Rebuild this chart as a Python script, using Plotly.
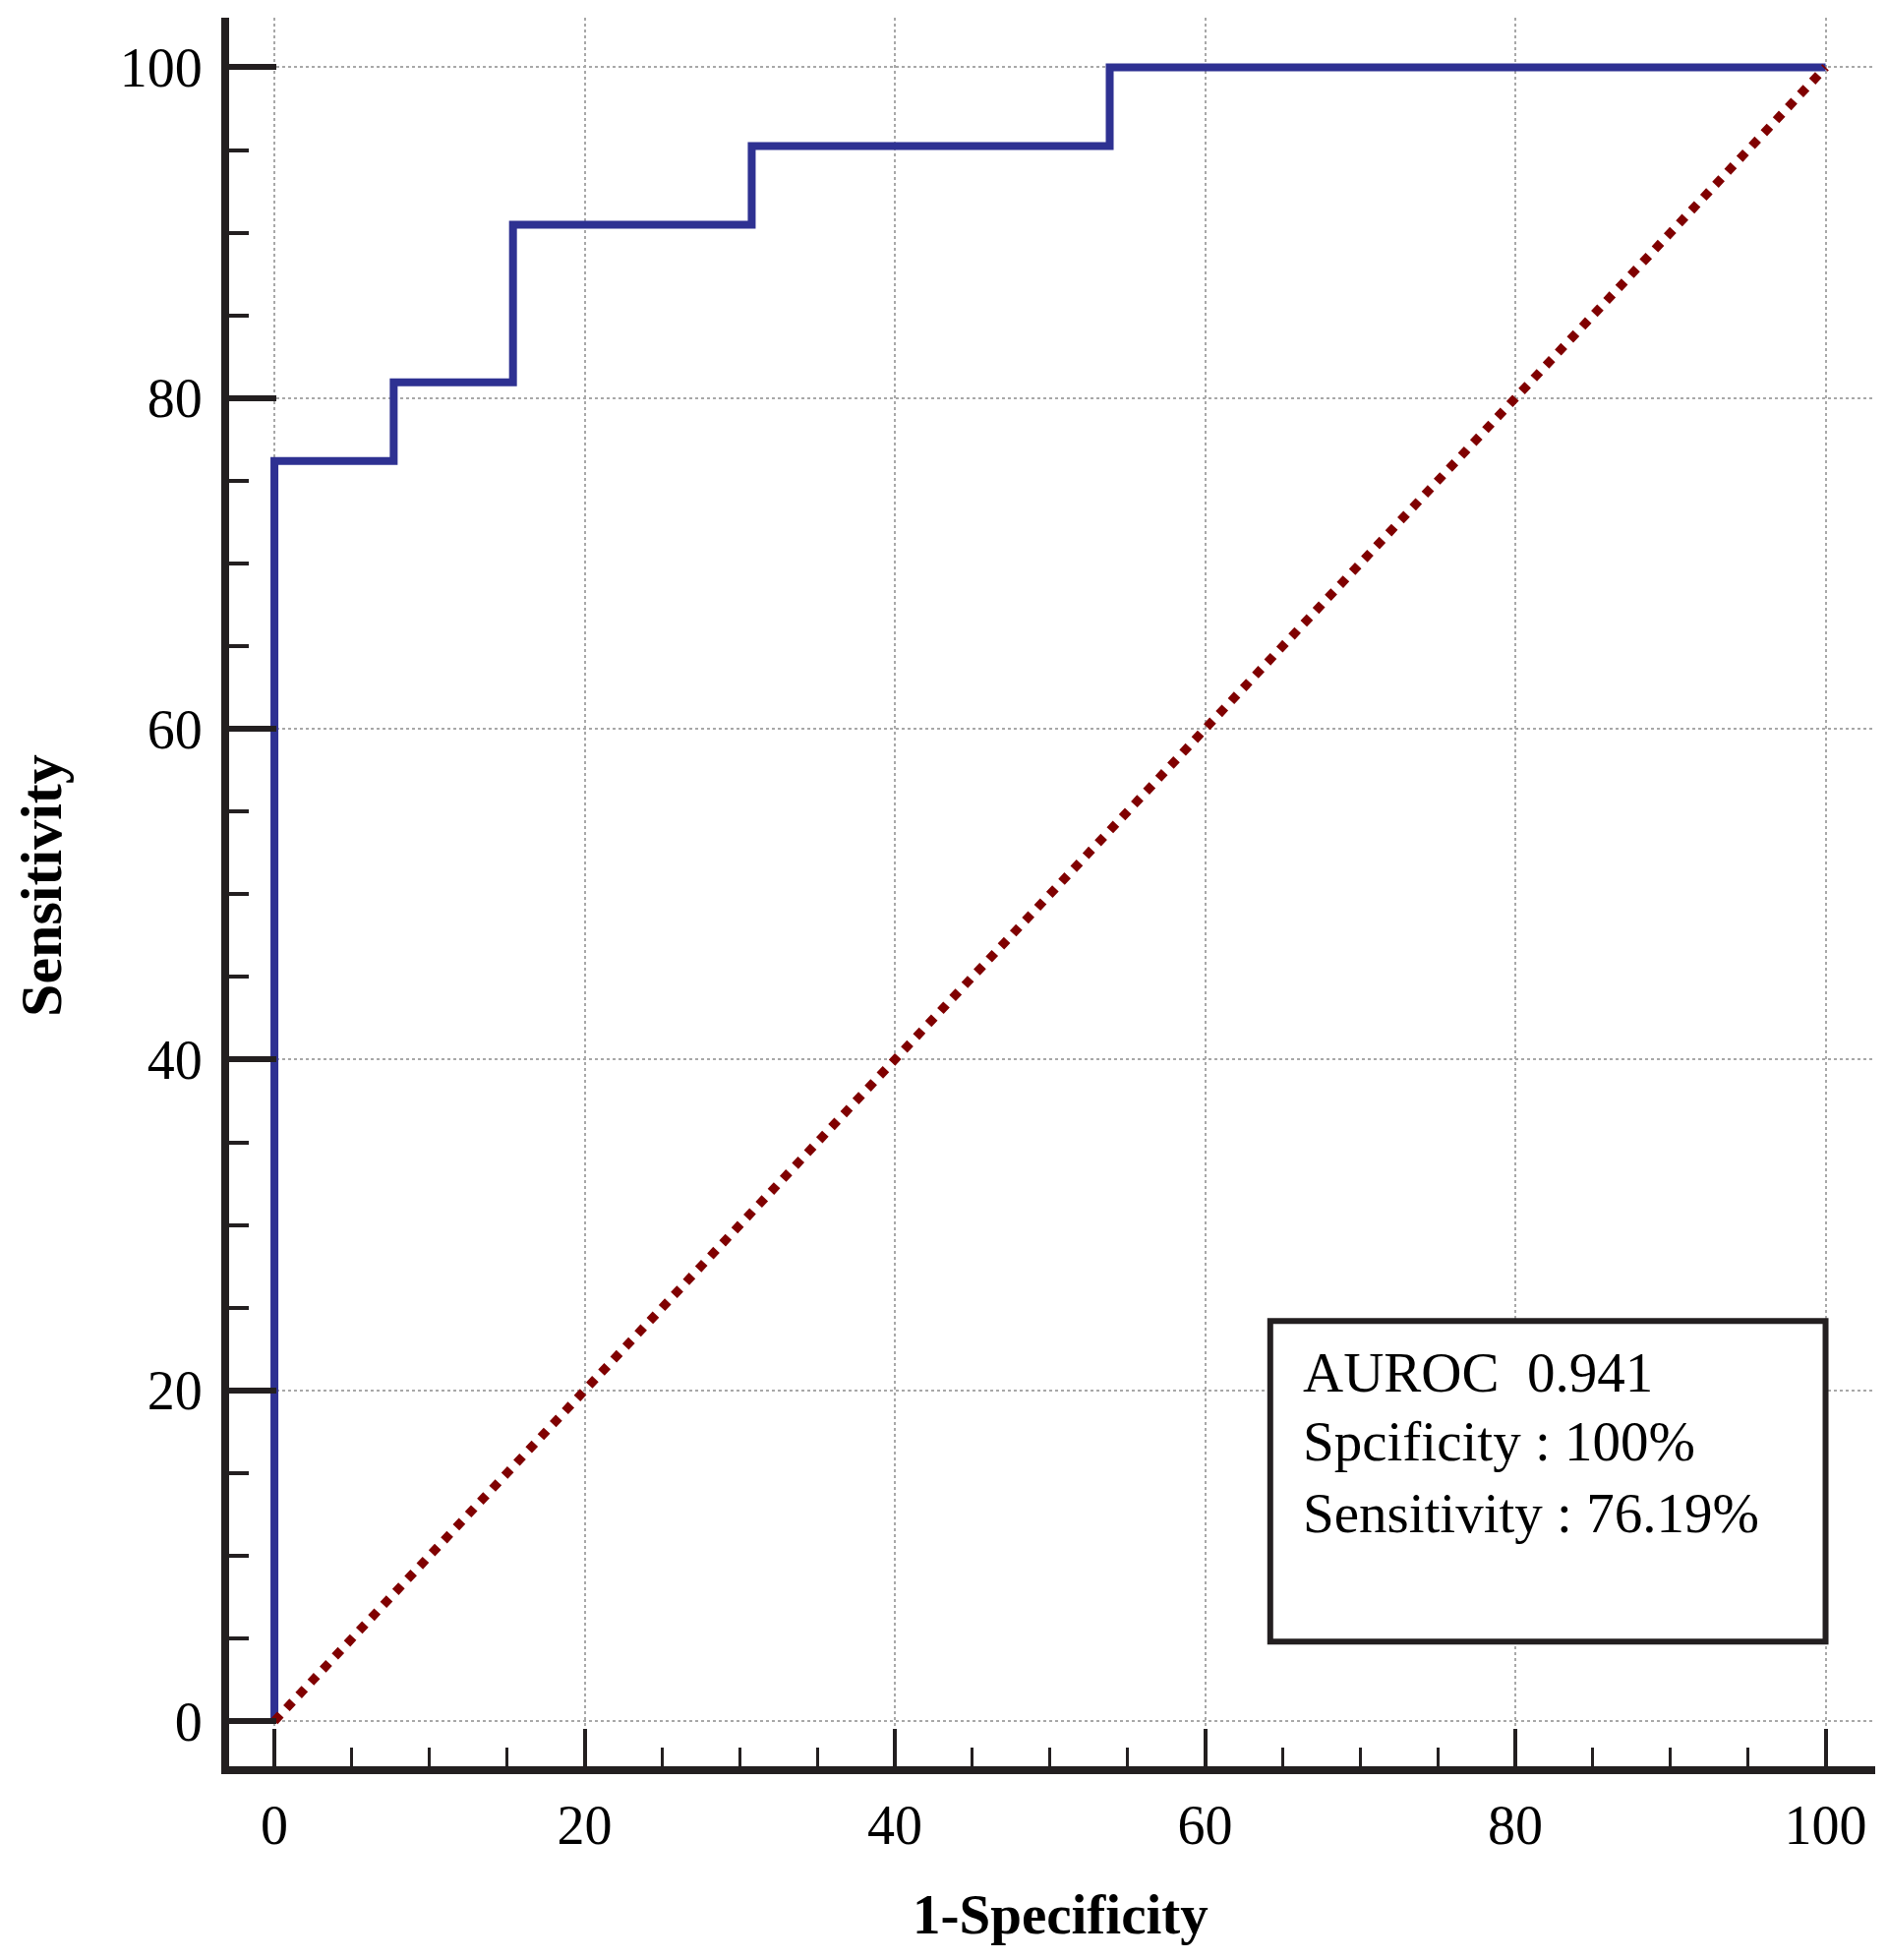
import plotly.graph_objects as go

# ROC curve data (1-Specificity vs Sensitivity, in %)
fpr = [0, 0, 7.69, 15.38, 30.77, 53.85, 100]
tpr = [0, 76.19, 80.95, 90.48, 95.24, 100, 100]
diag_x = [0, 100]
diag_y = [0, 100]

box_lines = ["AUROC  0.941", "Spcificity : 100%", "Sensitivity : 76.19%"]
box_line_y = [21.1, 16.9, 12.6]

FONT = "Liberation Serif"
AXC = "#231f20"

fig = go.Figure()
fig.add_trace(go.Scatter(x=fpr, y=tpr, mode="lines",
                         line=dict(color="#2e3192", width=8, shape="hv"),
                         showlegend=False, hoverinfo="skip"))
fig.add_trace(go.Scatter(x=diag_x, y=diag_y, mode="lines",
                         line=dict(color="#800000", width=9, dash="dot"),
                         showlegend=False, hoverinfo="skip"))

common = dict(showline=True, linewidth=8, linecolor=AXC, mirror=False,
              ticks="inside", tickcolor=AXC, tick0=0, dtick=20,
              showgrid=True, gridcolor="#a8a8a8", griddash="dot", gridwidth=1.5,
              zeroline=False,
              tickfont=dict(family=FONT, size=56, color="black"))

fig.update_xaxes(range=[-2.92, 103.2], ticklen=38, tickwidth=4,
                 minor=dict(dtick=5, tick0=0, ticks="inside", ticklen=19, tickwidth=3,
                            tickcolor=AXC, showgrid=False),
                 ticklabelstandoff=4, **common)
fig.update_yaxes(range=[-2.73, 103.0], ticklen=48, tickwidth=6,
                 minor=dict(dtick=5, tick0=0, ticks="inside", ticklen=20, tickwidth=4,
                            tickcolor=AXC, showgrid=False),
                 ticklabelstandoff=8, **common)

# Text box
fig.add_shape(type="rect", xref="x", yref="y", x0=64.2, x1=100, y0=4.8, y1=24.2,
              line=dict(color=AXC, width=6), fillcolor="white", layer="above")
for txt, yy in zip(box_lines, box_line_y):
    fig.add_annotation(x=66.2, y=yy, xref="x", yref="y", text=txt, showarrow=False,
                       xanchor="left", yanchor="middle",
                       font=dict(family=FONT, size=57, color="black"))

# Axis titles
fig.add_annotation(x=0.505, y=-0.0845, xref="paper", yref="paper",
                   text="<b>1-Specificity</b>", showarrow=False,
                   xanchor="center", yanchor="middle",
                   font=dict(family=FONT, size=57, color="black"))
fig.add_annotation(x=-0.1141, y=0.504, xref="paper", yref="paper",
                   text="<b>Sensitivity</b>", showarrow=False, textangle=-90,
                   xanchor="center", yanchor="middle", borderpad=0,
                   font=dict(family=FONT, size=60, color="black"))

fig.update_layout(width=1911, height=1985,
                  margin=dict(l=225, r=12, t=10, b=197),
                  paper_bgcolor="white", plot_bgcolor="white",
                  showlegend=False)

fig.write_html("out.html")
